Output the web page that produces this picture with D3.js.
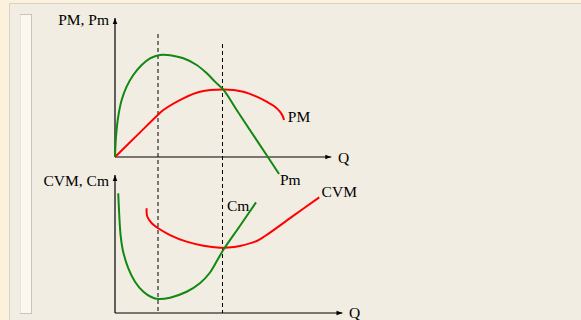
<!DOCTYPE html>
<html>
<head>
<meta charset="utf-8">
<script src="https://cdn.jsdelivr.net/npm/d3@7"></script>
<style>
  html, body { margin: 0; padding: 0; background: #fcf1dc; }
  svg { display: block; }
  text { font-family: "Liberation Serif", "Times New Roman", serif; font-size: 15.5px; fill: #000; }
</style>
</head>
<body>
<svg id="chart" width="581" height="320"></svg>
<script>
// ---- data (Q, value) ----
const pmPoints  = [[0,0],[10,15.2],[19.9,30.2],[22.5,33.8],[31.8,42.2],[39.5,46.9],[50.4,48.6],[59.7,47],[65.9,43.4],[70.5,39.8],[74.4,36.2],[76.7,32.6],[78,29.5],[78.6,26.6]];
const pmgPoints = [[0,0],[0.47,14.6],[1.5,29],[3.1,41],[5.4,50.6],[8.5,59],[12.4,66.2],[16.3,71],[19.4,72.9],[22.5,73.6],[25.6,73.2],[31.8,71],[38,66.2],[42.7,60.2],[46.5,54.2],[50.4,48.4],[56.6,33.8],[66.5,10.7],[76.3,-12.2]];
const cmPoints  = [[1.5,86.7],[1.9,73.4],[2.6,56.5],[3.8,44.4],[6.2,32.4],[9.3,22.7],[13.2,15.4],[17.1,11.4],[20.1,10.1],[25.6,11.1],[33.3,15.4],[39.5,21.5],[44,29],[47.5,38],[50.4,45.8],[58,62.9],[65.6,80.2]];
const cvmPoints = [[14.7,75.9],[15,69.9],[17.1,65],[20.1,61.4],[25.6,56.5],[33.3,51.7],[41.1,48.8],[48.8,47.3],[52.5,47.4],[58.1,48.6],[65.9,52.2],[69.8,55.8],[82.4,69.8],[95,83.8]];
const guideQ = [20, 50];

const topLabels = [
  { text: "PM", q: 80.4, v: 25 },
  { text: "Pm", q: 76.7, v: -20 }
];
const bottomLabels = [
  { text: "Cm", q: 52.1, v: 74 },
  { text: "CVM", q: 96.1, v: 84 }
];

const svg = d3.select("#chart");

// page frame
svg.append("rect").attr("x", 9.5).attr("y", 3.5).attr("width", 580).attr("height", 320)
  .attr("fill", "#f2ede3").attr("stroke", "#d9d3c8");
svg.append("rect").attr("x", 20.5).attr("y", 14.5).attr("width", 11).attr("height", 299)
  .attr("fill", "#fbf7ee").attr("stroke", "#c9c4bb");
svg.append("line").attr("x1", 21).attr("x2", 21).attr("y1", 15).attr("y2", 313)
  .attr("stroke", "#ffffff");

// scales
const x = d3.scaleLinear().domain([0, 100]).range([115, 330]);
const yTop = d3.scaleLinear().domain([0, 100]).range([157, 18]);
const yBot = d3.scaleLinear().domain([0, 100]).range([313, 175]);

const defs = svg.append("defs");
defs.append("marker").attr("id", "arrow")
  .attr("viewBox", "0 0 8 8").attr("refX", 8).attr("refY", 4)
  .attr("markerWidth", 5).attr("markerHeight", 5).attr("orient", "auto")
  .append("path").attr("d", "M0,1 L8,4 L0,7 Z").attr("fill", "#000");

// axes
function axes(y, xEnd, yEnd) {
  svg.append("line").attr("x1", x(0)).attr("y1", y(0)).attr("x2", x(xEnd)).attr("y2", y(0))
    .attr("stroke", "#000").attr("stroke-width", 1.2).attr("marker-end", "url(#arrow)");
  svg.append("line").attr("x1", x(0)).attr("y1", y(0)).attr("x2", x(0)).attr("y2", y(yEnd))
    .attr("stroke", "#000").attr("stroke-width", 1.2).attr("marker-end", "url(#arrow)");
}
axes(yTop, 100.6, 100);
axes(yBot, 105.8, 100);

// dashed guides
svg.append("line").attr("x1", x(guideQ[0])).attr("x2", x(guideQ[0]))
  .attr("y1", yTop(88.5)).attr("y2", yBot(0))
  .attr("stroke", "#000").attr("stroke-dasharray", "4,3");
svg.append("line").attr("x1", x(guideQ[1])).attr("x2", x(guideQ[1]))
  .attr("y1", yTop(81.3)).attr("y2", yBot(0))
  .attr("stroke", "#000").attr("stroke-dasharray", "4,3");

// curves
function curve(points, y, color) {
  const line = d3.line().x(d => x(d[0])).y(d => y(d[1])).curve(d3.curveCatmullRom.alpha(0.5));
  svg.append("path").datum(points).attr("d", line)
    .attr("fill", "none").attr("stroke", color).attr("stroke-width", 2);
}
curve(pmPoints, yTop, "#ff0000");
curve(pmgPoints, yTop, "#118811");
curve(cvmPoints, yBot, "#ff0000");
curve(cmPoints, yBot, "#118811");

// text
svg.append("text").attr("x", 109).attr("y", 25).attr("text-anchor", "end").text("PM, Pm");
svg.append("text").attr("x", 109).attr("y", 186).attr("text-anchor", "end").text("CVM, Cm");
svg.append("text").attr("x", 338).attr("y", 163).text("Q");
svg.append("text").attr("x", 349).attr("y", 318).text("Q");
topLabels.forEach(l => svg.append("text").attr("x", x(l.q)).attr("y", yTop(l.v)).text(l.text));
bottomLabels.forEach(l => svg.append("text").attr("x", x(l.q)).attr("y", yBot(l.v)).text(l.text));
</script>
</body>
</html>
